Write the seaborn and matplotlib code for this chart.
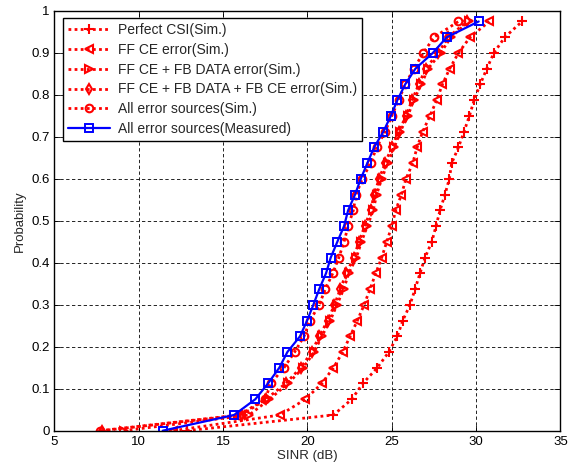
import matplotlib
matplotlib.use("Agg")
import matplotlib.pyplot as plt
import seaborn as sns
import pandas as pd

# Probability levels (CDF) shared by all series
prob = [0.0, 0.0375, 0.075, 0.1125, 0.15, 0.1875, 0.225, 0.2625, 0.3, 0.3375,
        0.375, 0.4125, 0.45, 0.4875, 0.525, 0.5625, 0.6, 0.6375, 0.675, 0.7125,
        0.75, 0.7875, 0.825, 0.8625, 0.9, 0.9375, 0.975]

perfect_csi = [12.85, 21.54, 22.63, 23.28, 24.14, 24.82, 25.33, 25.65, 26.08, 26.38,
               26.67, 26.97, 27.37, 27.62, 27.86, 28.15, 28.41, 28.55, 28.95, 29.28,
               29.6, 29.88, 30.24, 30.63, 31.05, 31.7, 32.72]
ff_ce = [12.05, 18.38, 19.88, 20.85, 21.54, 22.09, 22.53, 22.96, 23.36, 23.71,
         24.05, 24.4, 24.7, 25.0, 25.23, 25.57, 25.84, 26.24, 26.5, 26.83,
         27.26, 27.66, 28.0, 28.43, 28.95, 29.64, 30.78]
ff_fb_data = [9.1, 16.55, 17.75, 18.85, 19.75, 20.4, 20.85, 21.35, 21.75, 22.15,
              22.45, 22.9, 23.2, 23.55, 23.9, 24.1, 24.4, 24.75, 25.15, 25.5,
              25.95, 26.3, 26.75, 27.15, 27.9, 28.5, 29.55]
ff_fb_data_fb_ce = [7.8, 16.1, 17.55, 18.7, 19.6, 20.25, 20.7, 21.2, 21.6, 21.95,
                    22.3, 22.75, 23.05, 23.4, 23.75, 23.95, 24.25, 24.6, 25.0, 25.4,
                    25.85, 26.2, 26.6, 27.0, 27.75, 28.35, 29.45]
all_sim = [7.7, 15.95, 17.5, 17.82, 18.61, 19.24, 19.8, 20.15, 20.7, 21.06,
           21.5, 21.86, 22.17, 22.41, 22.72, 22.88, 23.25, 23.75, 24.1, 24.6,
           25.0, 25.4, 25.8, 26.3, 26.87, 27.5, 28.95]
all_measured = [11.42, 15.65, 16.91, 17.66, 18.33, 18.81, 19.56, 19.98, 20.35, 20.7,
                21.1, 21.38, 21.77, 22.17, 22.41, 22.82, 23.16, 23.55, 23.95, 24.5,
                24.94, 25.33, 25.79, 26.4, 27.43, 28.26, 30.15]

labels = ["Perfect CSI(Sim.)", "FF CE error(Sim.)", "FF CE + FB DATA error(Sim.)",
          "FF CE + FB DATA + FB CE error(Sim.)", "All error sources(Sim.)",
          "All error sources(Measured)"]
xticks = [5, 10, 15, 20, 25, 30, 35]
yticks = [0, 0.1, 0.2, 0.3, 0.4, 0.5, 0.6, 0.7, 0.8, 0.9, 1]
ytick_labels = ["0", "0.1", "0.2", "0.3", "0.4", "0.5", "0.6", "0.7", "0.8", "0.9", "1"]

sns.set_style("white")
plt.rcParams['font.family'] = ['Liberation Sans', 'DejaVu Sans']

fig = plt.figure(figsize=(5.71, 4.67), dpi=100)
ax = fig.add_axes([0.0953, 0.0777, 0.8863, 0.8988])

series = [perfect_csi, ff_ce, ff_fb_data, ff_fb_data_fb_ce, all_sim, all_measured]
markers = ['+', '<', '>', 'd', 'o', 's']
red = '#ff0000'
blue = '#0000ff'
for i, (xs, lab, mk) in enumerate(zip(series, labels, markers)):
    df = pd.DataFrame({"SINR": xs, "Probability": prob})
    if i < 5:
        sns.lineplot(data=df, x="SINR", y="Probability", ax=ax, sort=False,
                     estimator=None, label=lab, color=red,
                     linestyle=(0, (1, 1.2)), linewidth=2.0, marker=mk,
                     markersize=5.5 if mk != '+' else 7, markerfacecolor='none',
                     markeredgecolor=red, markeredgewidth=1.5)
    else:
        sns.lineplot(data=df, x="SINR", y="Probability", ax=ax, sort=False,
                     estimator=None, label=lab, color=blue,
                     linestyle='-', linewidth=1.6, marker=mk, markersize=6,
                     markerfacecolor='none', markeredgecolor=blue,
                     markeredgewidth=1.4)

ax.set_xlim(5, 35)
ax.set_ylim(0, 1)
ax.set_xticks(xticks)
ax.set_xticklabels([str(t) for t in xticks])
ax.set_yticks(yticks)
ax.set_yticklabels(ytick_labels)
ax.grid(True, color='black', linestyle=(0, (4, 3)), linewidth=0.6)
for s in ax.spines.values():
    s.set_color('black')
    s.set_linewidth(1.0)
ax.tick_params(direction='in', length=4, width=0.6, labelsize=9.5, colors='black',
               top=True, right=True, bottom=True, left=True)
ax.set_xlabel("SINR (dB)", fontsize=9.5, labelpad=2)
ax.set_ylabel("Probability", fontsize=9.5, labelpad=4)

leg = ax.legend(loc='upper left', bbox_to_anchor=(0.017, 0.983), borderaxespad=0,
                fontsize=10, frameon=True, fancybox=False,
                edgecolor='black', framealpha=1,
                handlelength=3.0, labelspacing=0.42, borderpad=0.35,
                handletextpad=0.6)
leg.get_frame().set_linewidth(1.0)

fig.savefig("out.png", dpi=100)
